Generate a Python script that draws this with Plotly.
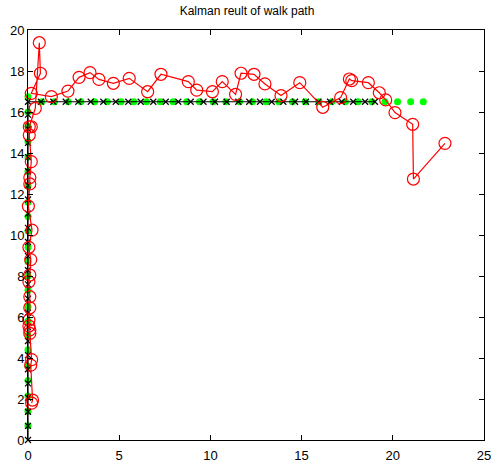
import plotly.graph_objects as go

# True path (black x markers with line)
true_x = [0, 0, 0, 0, 0, 0, 0, 0, 0, 0, 0, 0, 0, 0, 0, 0, 0, 0, 0, 0, 0, 0, 0, 0, 0,
          0.71, 1.39, 2.07, 2.76, 3.44, 4.13, 4.81, 5.50, 6.18, 6.87, 7.55, 8.24, 8.92,
          9.62, 10.25, 10.89, 11.53, 12.13, 12.72, 13.36, 14.00, 14.64, 15.24, 15.92,
          16.56, 17.20, 17.83, 18.48, 19.02]
true_y = [0, 0.69, 1.38, 2.07, 2.76, 3.45, 4.14, 4.83, 5.52, 6.21, 6.90, 7.59, 8.28,
          8.97, 9.66, 10.35, 11.04, 11.73, 12.42, 13.11, 13.80, 14.49, 15.18, 15.87, 16.5,
          16.5, 16.5, 16.5, 16.5, 16.5, 16.5, 16.5, 16.5, 16.5, 16.5, 16.5, 16.5, 16.5,
          16.5, 16.5, 16.5, 16.5, 16.5, 16.5, 16.5, 16.5, 16.5, 16.5, 16.5,
          16.5, 16.5, 16.5, 16.5, 16.5]

# Measurements (green dots)
meas_x = [0, 0, 0, 0, 0, 0, 0, 0, 0, 0, 0, 0, 0, 0, 0, 0, 0, 0, 0, 0, 0, 0, 0,
          0.75, 1.45, 2.20, 2.90, 3.65, 4.35, 5.10, 5.80, 6.50, 7.25, 7.95, 8.70, 9.40,
          10.15, 10.85, 11.60, 12.30, 13.05, 13.75, 14.50, 15.20, 15.95, 16.65, 17.40,
          18.10, 18.85, 19.57, 20.26, 20.98, 21.67]
meas_y = [0.70, 1.40, 2.15, 2.90, 3.60, 4.40, 5.10, 5.80, 6.50, 7.30, 8.00, 8.70, 9.40,
          10.20, 10.90, 11.60, 12.40, 13.10, 13.80, 14.55, 15.30, 16.00, 16.75,
          16.5, 16.5, 16.5, 16.5, 16.5, 16.5, 16.5, 16.5, 16.5, 16.5, 16.5, 16.5, 16.5,
          16.5, 16.5, 16.5, 16.5, 16.5, 16.5, 16.5, 16.5, 16.5, 16.5, 16.5,
          16.5, 16.5, 16.5, 16.5, 16.5, 16.5]

# Kalman result (red circles)
kal_x = [0.20, 0.25, 0.15, 0.20, 0.10, 0.10, 0.05, 0.05, 0.10, 0.10, 0.05, 0.10, 0.15,
         0.05, 0.22, 0.02, 0.10, 0.10, 0.18, 0.07, 0.18, 0.07, 0.40, 0.62, 0.68, 0.18,
         1.28, 2.19, 2.80, 3.40, 3.89, 4.68, 5.55, 6.56, 7.29, 8.79, 9.25, 10.11, 10.65,
         11.38, 11.68, 12.39, 12.99, 13.87, 14.90, 16.16, 17.14, 17.62, 17.75, 18.66,
         19.26, 19.61, 20.12, 21.09, 21.13, 22.86]
kal_y = [1.80, 1.95, 3.65, 3.92, 5.20, 5.37, 5.56, 5.85, 6.45, 6.99, 7.72, 8.05, 8.80,
         9.40, 10.24, 11.41, 12.49, 12.80, 13.58, 14.88, 15.28, 15.28, 16.18, 19.38,
         17.89, 16.91, 16.75, 17.02, 17.69, 17.92, 17.59, 17.40, 17.64, 16.99, 17.84,
         17.48, 17.07, 16.99, 17.48, 16.86, 17.89, 17.84, 17.37, 16.80, 17.43, 16.23,
         16.70, 17.61, 17.53, 17.43, 16.94, 16.59, 15.97, 15.40, 12.73, 14.47]

x_ticks = [0, 5, 10, 15, 20, 25]
y_ticks = [0, 2, 4, 6, 8, 10, 12, 14, 16, 18, 20]

fig = go.Figure()
fig.add_trace(go.Scatter(
    x=meas_x, y=meas_y, mode="markers",
    marker=dict(symbol="circle", size=7, color="#00ff00", line=dict(width=0)),
    cliponaxis=False, showlegend=False))
fig.add_trace(go.Scatter(
    x=true_x, y=true_y, mode="lines+markers",
    line=dict(color="black", width=1.2),
    marker=dict(symbol="x-thin", size=6, color="black", line=dict(color="black", width=1.2)),
    cliponaxis=False, showlegend=False))
fig.add_trace(go.Scatter(
    x=kal_x, y=kal_y, mode="lines+markers",
    line=dict(color="red", width=1.2),
    marker=dict(symbol="circle-open", size=12, color="red", line=dict(width=1.2)),
    cliponaxis=False, showlegend=False))

axis_common = dict(
    showgrid=False, zeroline=False, showline=True, linecolor="black", linewidth=1,
    mirror="ticks", ticks="inside", ticklen=5, tickwidth=1, tickcolor="black",
    automargin=False,
    tickfont=dict(family="Liberation Sans, Arial, sans-serif", size=13, color="black"),
)
fig.update_xaxes(range=[0, 25], tickvals=x_ticks, ticktext=[str(v) for v in x_ticks],
                 ticklabelstandoff=3, **axis_common)
fig.update_yaxes(range=[0, 20], tickvals=y_ticks, ticktext=[str(v) for v in y_ticks],
                 **axis_common)

fig.update_layout(
    width=494, height=465,
    margin=dict(l=28, r=10, t=30, b=25),
    paper_bgcolor="white", plot_bgcolor="white",
    title=dict(text="Kalman reult of walk path", x=0.5, xanchor="center",
               y=1 - 11 / 465, yanchor="middle",
               font=dict(family="Liberation Sans, Arial, sans-serif", size=12, color="black")),
)

fig.write_html("out.html")
